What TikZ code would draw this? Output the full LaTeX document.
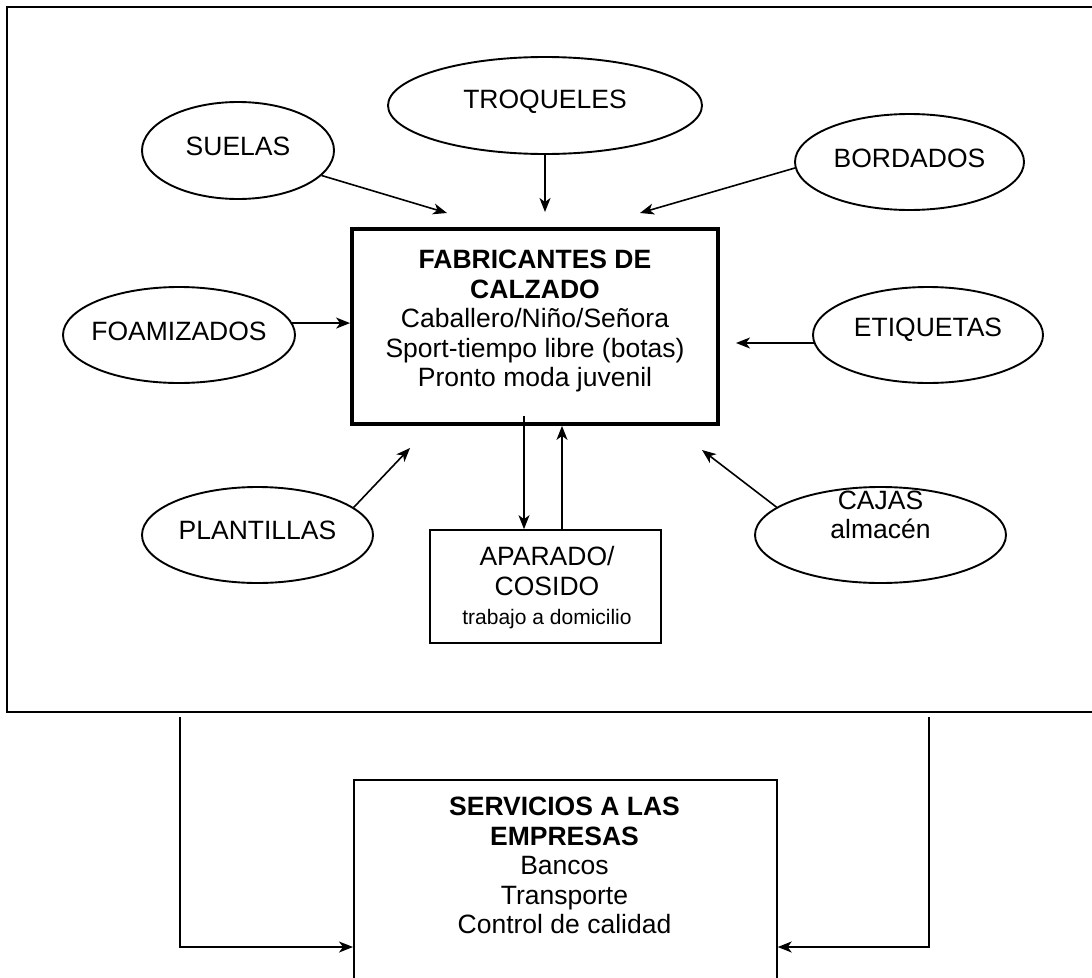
\documentclass[tikz,border=0pt]{standalone}
\usepackage{fontspec}
\setmainfont{Liberation Sans}
\usetikzlibrary{shapes.geometric,arrows.meta,calc}
\begin{document}
\begin{tikzpicture}[x=1pt,y=-1pt,
  oval/.style={draw, ellipse, line width=1.9pt, inner sep=0pt},
  conn/.style={line width=1.6pt, -{Stealth[length=14pt,width=11pt,inset=4pt]}},
  lbl/.style={font=\fontsize{26.5}{29.5}\selectfont, align=center},
  plainbox/.style={draw, line width=1.7pt, inner sep=0pt},
]
\useasboundingbox (0,0) rectangle (1092,977);
\clip (0,0) rectangle (1092,977);
\fill[white] (0,0) rectangle (1092,977);

% outer frame of the cluster
\draw[line width=2.2pt] (7,7) rectangle (1130,712);

% suppliers
\node[oval, minimum width=192pt, minimum height=97pt,
  label={[lbl,yshift=4pt]center:SUELAS}] (suelas) at (238,150.5) {};
\node[oval, minimum width=314pt, minimum height=97pt,
  label={[lbl,yshift=4pt]center:TROQUELES}] (troq) at (545,105.5) {};
\node[oval, minimum width=229pt, minimum height=96pt,
  label={[lbl,yshift=4pt]center:BORDADOS}] (bord) at (909.5,162) {};
\node[oval, minimum width=232pt, minimum height=96pt,
  label={[lbl,yshift=4pt]center:FOAMIZADOS}] (foam) at (179,335) {};
\node[oval, minimum width=230pt, minimum height=96pt,
  label={[lbl,yshift=5pt]center:ETIQUETAS}] (etiq) at (928,335) {};
\node[oval, minimum width=231pt, minimum height=96pt,
  label={[lbl,yshift=5pt]center:PLANTILLAS}] (plant) at (257.5,535) {};
\node[oval, minimum width=251pt, minimum height=96pt,
  label={[lbl,yshift=20pt]center:CAJAS\\almacén}] (cajas) at (880.5,535) {};

% central manufacturer box
\node[draw, line width=3.8pt, inner sep=0pt, minimum width=366pt,
  minimum height=195pt] (fab) at (535,326.5) {};
\node[lbl, anchor=north, inner sep=0pt] (fabtxt) at (535,250)
  {\textbf{FABRICANTES DE}\\\textbf{CALZADO}\\Caballero/Niño/Señora\\Sport-tiempo libre (botas)\\Pronto moda juvenil};

% outsourced stitching
\node[plainbox, minimum width=231pt, minimum height=113pt] (apar) at (545.5,586.5) {};
\node[lbl, inner sep=0pt] (apartxt) at (547,588)
  {APARADO/\\COSIDO\\{\fontsize{21}{25}\selectfont trabajo a domicilio}};

% business services
\node[plainbox, anchor=north west, minimum width=423pt, minimum height=230pt] (serv) at (353,779) {};
\node[lbl, anchor=north, inner sep=0pt] (servtxt) at (564.5,797)
  {\textbf{SERVICIOS A LAS}\\\textbf{EMPRESAS}\\Bancos\\Transporte\\Control de calidad};

% arrow ends
\coordinate (tS) at (447,213);
\coordinate (tT) at (545,212);
\coordinate (tB) at (640,213);
\coordinate (tE) at (736,342);
\coordinate (tP) at (410,448);
\coordinate (tC) at (702,450);
\coordinate (xd) at (524,416);
\coordinate (xu) at (562,0);
\coordinate (bl) at (180,717);
\coordinate (br) at (929,717);
\coordinate (yb) at (0,947);

% supplier flows
\draw[conn] (suelas) -- (tS);
\draw[conn] (troq.south) -- (tT);
\draw[conn] (bord.183) -- (tB);
\draw[conn] (foam.6) -- (foam.6 -| fab.west);
\draw[conn] (etiq.184) -- (etiq.184 -| tE);
\draw[conn] (plant.16) -- (tP);
\draw[conn] (cajas.165) -- (tC);

% stitching loop
\draw[conn] (xd) -- (xd |- apar.north);
\draw[conn] (xu |- apar.north) -- (xu |- fab.south);

% services links
\draw[conn] (bl) |- (serv.west |- yb);
\draw[conn] (br) |- (serv.east |- yb);
\end{tikzpicture}
\end{document}
